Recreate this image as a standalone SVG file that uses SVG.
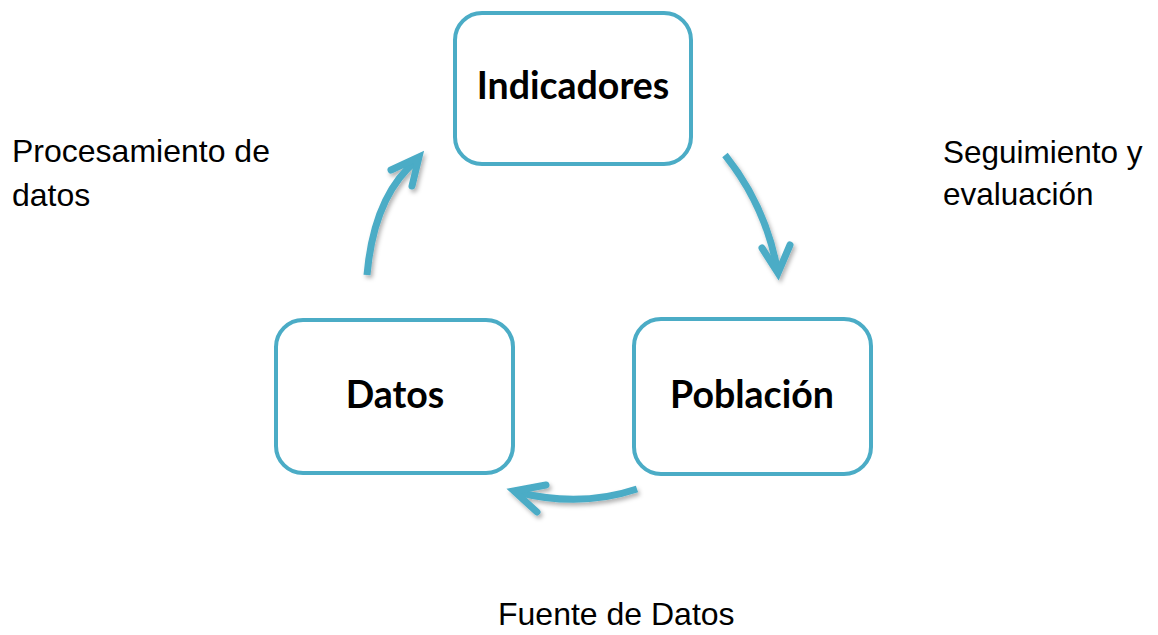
<svg xmlns="http://www.w3.org/2000/svg" width="1158" height="635" viewBox="0 0 1158 635">
<style>
.box{fill:#fff;stroke:#4BACC6;stroke-width:4}
.nt{font-family:Lato,"Open Sans","Liberation Sans",sans-serif;font-weight:bold;font-size:37.5px;fill:#000;text-anchor:middle}
.lb{font-family:"Liberation Sans",Arial,sans-serif;font-size:32px;fill:#000}
.arr{fill:none;stroke:#4BACC6;stroke-width:7;stroke-linecap:round;stroke-linejoin:miter;stroke-miterlimit:10}
.sh{fill:none;stroke:#4BACC6;stroke-width:7;stroke-linecap:butt}
</style>
<defs>
<filter id="ds" x="-20%" y="-20%" width="140%" height="140%">
<feDropShadow dx="2" dy="3" stdDeviation="2" flood-color="#000" flood-opacity="0.3"/>
</filter>
</defs>
<g id="connectors" filter="url(#ds)">
<g id="c1">
<path class="sh" d="M725,155 Q765,205 777,268"/>
<polyline class="arr" points="762,248 778,273 790,245"/>
</g>
<g id="c2">
<path class="sh" d="M367,275 Q374,195 417,160"/>
<polyline class="arr" points="391,170 419,157 412,186"/>
</g>
<g id="c3">
<path class="sh" d="M637,489 Q580,508 517,492"/>
<polyline class="arr" points="546,485 514,491 537,512"/>
</g>
</g>
<g id="indicadores">
<rect class="box" x="455" y="13" width="236" height="151" rx="27"/>
<text class="nt" x="573" y="99">Indicadores</text>
</g>
<g id="datos">
<rect class="box" x="276" y="320" width="237" height="153" rx="27"/>
<text class="nt" x="395" y="408">Datos</text>
</g>
<g id="poblacion">
<rect class="box" x="634" y="319" width="237" height="155" rx="27"/>
<text class="nt" x="752" y="408">Población</text>
</g>
<g id="labels">
<text class="lb" x="12" y="162">Procesamiento de</text>
<text class="lb" x="12" y="206">datos</text>
<text class="lb" x="943" y="163" style="font-size:31.5px">Seguimiento y</text>
<text class="lb" x="943" y="205" style="font-size:31.5px">evaluación</text>
<text class="lb" x="498" y="625">Fuente de Datos</text>
</g>
</svg>
